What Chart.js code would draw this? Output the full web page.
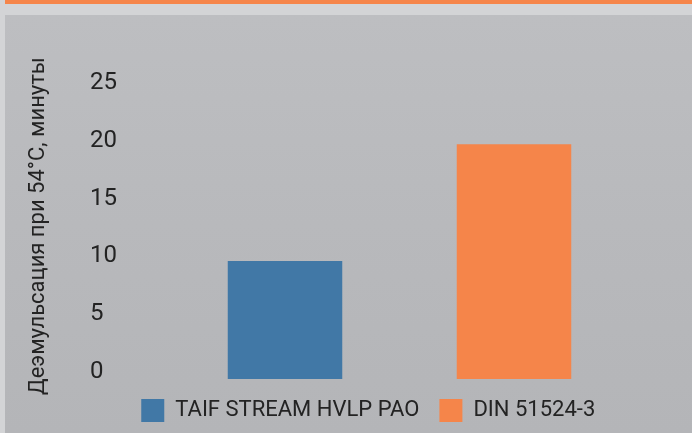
<!DOCTYPE html>
<html>
<head>
<meta charset="utf-8">
<script src="https://cdn.jsdelivr.net/npm/chart.js@4/dist/chart.umd.min.js"></script>
<style>
  html, body { margin:0; padding:0; }
  body { width:692px; height:433px; background:#d3d4d6; position:relative; overflow:hidden; }
  .strip { position:absolute; left:5px; top:0; width:687px; height:4px; background:#f5854a; }
  .panel { position:absolute; left:5px; top:15px; right:0; bottom:0;
           background:linear-gradient(to bottom, #bdbec1 0%, #b8b9bc 50%, #b4b5b8 100%); }
  #wrap { position:absolute; left:0; top:0; width:692px; height:433px; }
</style>
</head>
<body>
<div class="strip"></div>
<div class="panel"></div>
<div id="wrap"><canvas id="chart" width="692" height="433"></canvas></div>
<script>
// series (one bar each)
const seriesNames = ['TAIF STREAM HVLP PAO', 'DIN 51524-3'];
const seriesValues = [10.2, 20.3];
const seriesColors = ['#4178a6', '#f5854a'];
const yTitle = 'Деэмульсация при 54°С, минуты';
const yMin = 0, yMax = 25, yStep = 5;

const FONT = 'Roboto, "Liberation Sans", Arial, sans-serif';
const TEXT = '#232323';

// rotated y-axis title, drawn by hand so the ticks can sit left-aligned
const yTitlePlugin = {
  id: 'yTitle',
  afterLayout(chart){
    // legend sits a bit right of the plot centre in the original
    chart.legend.left += 9;
    chart.legend.right += 9;
  },
  afterDraw(chart){
    const {ctx} = chart;
    ctx.save();
    ctx.translate(38, 226);
    ctx.rotate(-Math.PI/2);
    ctx.font = '22px ' + FONT;
    ctx.fillStyle = TEXT;
    ctx.textAlign = 'center';
    ctx.textBaseline = 'middle';
    ctx.fillText(yTitle, 0, 0);
    ctx.restore();
  }
};

const datasets = seriesNames.map((n, i)=>({
  label: n,
  data: [seriesValues[i]],
  backgroundColor: seriesColors[i],
  borderWidth: 0,
  barPercentage: 0.5,
  categoryPercentage: 1.0
}));

new Chart(document.getElementById('chart'), {
  type: 'bar',
  data: { labels: [''], datasets },
  options: {
    responsive: false,
    maintainAspectRatio: false,
    animation: false,
    devicePixelRatio: 1,
    layout: { padding: { left: 90, right: 63.5, top: 90, bottom: 1 } },
    plugins: {
      tooltip: { enabled: false },
      legend: {
        position: 'bottom',
        labels: {
          boxWidth: 23, boxHeight: 23, padding: 20,
          color: TEXT,
          font: { family: FONT, size: 22 }
        }
      }
    },
    scales: {
      x: { display: false },
      y: {
        min: yMin, max: yMax,
        grid: { display: false },
        border: { display: false },
        afterFit(s){ s.width = 80.5; },
        ticks: {
          stepSize: yStep,
          crossAlign: 'far',
          labelOffset: -7,
          color: TEXT,
          font: { family: FONT, size: 24 }
        }
      }
    }
  },
  plugins: [yTitlePlugin]
});
</script>
</body>
</html>
